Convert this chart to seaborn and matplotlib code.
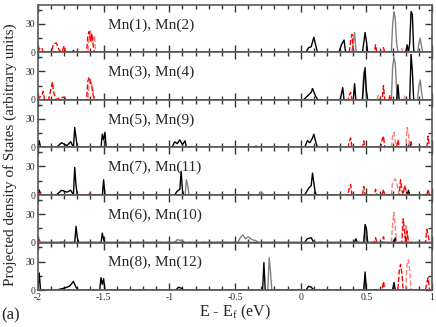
import matplotlib
matplotlib.use('Agg')
import matplotlib.pyplot as plt
import seaborn as sns
import pandas as pd
from matplotlib.ticker import MultipleLocator, FuncFormatter

# projected DOS, (E - Ef, dos) vertices
# up = solid (black / grey), dn = dashed (red / pink)
panel_labels = ["Mn(1), Mn(2)", "Mn(3), Mn(4)", "Mn(5), Mn(9)",
                "Mn(7), Mn(11)", "Mn(6), Mn(10)", "Mn(8), Mn(12)"]

p1_up_a = [(-2, 0), (-1.74, 0), (-1.73, 2), (-1.72, 0), (0.04, 0), (0.06, 5), (0.08, 6), (0.1, 16),
           (0.12, 4), (0.13, 0), (0.29, 0), (0.31, 8), (0.33, 13), (0.34, 2), (0.35, 0), (0.47, 0),
           (0.48, 10), (0.49, 21), (0.5, 12), (0.51, 0), (0.8, 0), (0.81, 8), (0.82, 0), (0.83, 10),
           (0.84, 43), (0.85, 40), (0.86, 2), (0.87, 0), (1, 0)]
p1_up_b = [(-2, 0), (0.39, 0), (0.41, 21), (0.42, 3), (0.43, 0), (0.69, 0), (0.7, 30), (0.71, 43),
           (0.72, 35), (0.73, 10), (0.74, 0), (0.89, 0), (0.9, 10), (0.91, 15), (0.92, 6), (0.93, 0), (1, 0)]
p1_dn_a = [(-2, 0), (-1.99, 4), (-1.97, 5), (-1.96, 0), (-1.9, 0), (-1.88, 9), (-1.86, 10), (-1.84, 3),
           (-1.82, 0), (-1.8, 7), (-1.79, 0), (-1.63, 0), (-1.62, 18), (-1.61, 22), (-1.6, 12), (-1.59, 20),
           (-1.58, 8), (-1.57, 0), (0.37, 0), (0.38, 12), (0.39, 19), (0.4, 3), (0.41, 0), (0.56, 0),
           (0.57, 8), (0.58, 0), (0.62, 0), (0.63, 5), (0.64, 0), (1, 0)]
p1_dn_b = [(-2, 0), (-1.62, 0), (-1.61, 15), (-1.6, 24), (-1.59, 10), (-1.57, 18), (-1.56, 0),
           (0.76, 0), (0.77, 4), (0.78, 0), (1, 0)]

p2_up_a = [(-2, 0), (0.02, 0), (0.05, 4), (0.08, 8), (0.09, 12), (0.11, 5), (0.13, 0), (0.3, 0),
           (0.32, 13), (0.33, 0), (0.4, 0), (0.41, 17), (0.42, 0), (0.47, 0), (0.48, 20), (0.49, 34),
           (0.5, 10), (0.51, 0), (0.73, 0), (0.74, 16), (0.75, 0), (0.83, 0), (0.84, 48), (0.85, 30),
           (0.86, 0), (1, 0)]
p2_up_b = [(-2, 0), (0.47, 0), (0.48, 30), (0.49, 25), (0.5, 0), (0.69, 0), (0.7, 35), (0.71, 45),
           (0.72, 38), (0.73, 12), (0.74, 0), (0.89, 0), (0.9, 15), (0.91, 21), (0.92, 8), (0.93, 0), (1, 0)]
p2_dn_a = [(-2, 0), (-1.99, 3), (-1.97, 4), (-1.96, 9), (-1.95, 0), (-1.92, 0), (-1.9, 12), (-1.89, 19),
           (-1.88, 8), (-1.86, 0), (-1.84, 2), (-1.8, 3), (-1.78, 0), (-1.63, 0), (-1.62, 20), (-1.61, 24),
           (-1.6, 18), (-1.59, 14), (-1.58, 5), (-1.57, 0), (0.36, 0), (0.37, 5), (0.38, 8), (0.39, 0),
           (0.62, 0), (0.63, 15), (0.64, 0), (0.67, 0), (0.68, 5), (0.69, 0), (1, 0)]
p2_dn_b = [(-2, 0), (-1.62, 0), (-1.61, 16), (-1.6, 22), (-1.58, 10), (-1.57, 0), (0.58, 0),
           (0.59, 5), (0.6, 0), (0.78, 0), (0.79, 4), (0.8, 0), (1, 0)]

p3_up_a = [(-2, 0), (-1.99, 7), (-1.98, 0), (-1.86, 0), (-1.82, 5), (-1.78, 2), (-1.75, 6), (-1.73, 0),
           (-1.72, 21), (-1.71, 10), (-1.7, 0), (-1.52, 0), (-1.51, 14), (-1.5, 8), (-1.49, 16), (-1.48, 0),
           (-0.98, 0), (-0.96, 6), (-0.94, 4), (-0.92, 8), (-0.9, 3), (-0.88, 7), (-0.87, 0), (0.03, 0),
           (0.05, 7), (0.07, 5), (0.09, 10), (0.1, 14), (0.12, 3), (0.13, 0), (0.82, 0), (0.83, 5),
           (0.84, 0), (1, 0)]
p3_up_b = [(-2, 0), (-0.35, 0), (-0.34, 2), (-0.33, 0), (1, 0)]
p3_dn_a = [(-2, 0), (0.36, 0), (0.37, 6), (0.38, 10), (0.39, 0), (0.47, 0), (0.48, 7), (0.49, 0),
           (0.61, 0), (0.62, 8), (0.63, 12), (0.64, 0), (0.73, 0), (0.74, 8), (0.75, 0), (0.83, 0),
           (0.84, 6), (0.85, 0), (0.96, 0), (0.97, 12), (0.98, 0), (1, 0)]
p3_dn_b = [(-2, 0), (0.69, 0), (0.7, 12), (0.71, 16), (0.72, 6), (0.73, 0), (0.8, 0), (0.81, 21),
           (0.82, 14), (0.83, 0), (1, 0)]

p4_up_a = [(-2, 0), (-1.99, 5), (-1.98, 0), (-1.86, 0), (-1.82, 5), (-1.78, 3), (-1.75, 5), (-1.73, 0),
           (-1.72, 29), (-1.71, 10), (-1.7, 0), (-1.51, 0), (-1.5, 16), (-1.49, 0), (-0.96, 0), (-0.94, 4),
           (-0.92, 6), (-0.91, 25), (-0.9, 5), (-0.89, 0), (0.03, 0), (0.06, 7), (0.08, 10), (0.09, 23),
           (0.11, 3), (0.12, 0), (0.81, 0), (0.82, 5), (0.83, 0), (1, 0)]
p4_up_b = [(-2, 0), (-0.88, 0), (-0.87, 16), (-0.86, 10), (-0.85, 0), (-0.32, 0), (-0.31, 3),
           (-0.29, 2), (-0.28, 0), (1, 0)]
p4_dn_a = [(-2, 0), (-1.98, 3), (-1.97, 0), (-1.62, 0), (-1.6, 2), (-1.58, 0), (0.36, 0), (0.37, 8),
           (0.38, 11), (0.39, 0), (0.47, 0), (0.48, 9), (0.49, 0), (0.56, 0), (0.57, 6), (0.58, 0),
           (0.62, 0), (0.63, 6), (0.64, 0), (0.75, 0), (0.76, 16), (0.77, 5), (0.78, 0), (0.79, 10),
           (0.8, 6), (0.81, 0), (0.96, 0), (0.97, 6), (0.98, 0), (1, 0)]
p4_dn_b = [(-2, 0), (0.69, 0), (0.7, 14), (0.72, 17), (0.74, 8), (0.75, 0), (1, 0)]

p5_up_a = [(-2, 0), (-1.72, 0), (-1.71, 17), (-1.7, 5), (-1.69, 0), (-1.52, 0), (-1.51, 10), (-1.5, 3),
           (-1.49, 0), (0.03, 0), (0.05, 4), (0.08, 5), (0.1, 0), (0.41, 0), (0.42, 4), (0.43, 0),
           (0.48, 0), (0.49, 19), (0.5, 15), (0.51, 0), (0.71, 0), (0.72, 5), (0.73, 0), (1, 0)]
p5_up_b = [(-2, 0), (-0.96, 0), (-0.94, 3), (-0.9, 2), (-0.88, 0), (-0.48, 0), (-0.46, 5), (-0.44, 8),
           (-0.42, 4), (-0.4, 6), (-0.37, 3), (-0.34, 2), (-0.32, 0), (0.48, 0), (0.49, 15), (0.5, 0), (1, 0)]
p5_dn_a = [(-2, 0), (-1.99, 3), (-1.98, 0), (-1.83, 0), (-1.82, 2), (-1.81, 0), (0.56, 0), (0.57, 5),
           (0.58, 0), (0.62, 0), (0.63, 6), (0.64, 0), (0.77, 0), (0.78, 25), (0.79, 12), (0.8, 0),
           (0.81, 12), (0.82, 0), (0.95, 0), (0.96, 14), (0.97, 8), (0.98, 0), (1, 0)]
p5_dn_b = [(-2, 0), (0.69, 0), (0.7, 20), (0.71, 32), (0.72, 15), (0.73, 0), (0.79, 0), (0.8, 19),
           (0.81, 10), (0.82, 0), (1, 0)]

p6_up_a = [(-2, 0), (-1.99, 18), (-1.98, 0), (-1.86, 0), (-1.8, 2), (-1.76, 4), (-1.73, 9), (-1.71, 3),
           (-1.69, 0), (-1.53, 0), (-1.52, 13), (-1.51, 6), (-1.5, 12), (-1.49, 0), (-0.95, 0), (-0.93, 3),
           (-0.91, 2), (-0.89, 0), (-0.29, 0), (-0.28, 29), (-0.27, 0), (0.04, 0), (0.06, 4), (0.08, 3),
           (0.1, 0), (0.48, 0), (0.49, 19), (0.5, 0), (0.7, 0), (0.71, 8), (0.72, 0), (1, 0)]
p6_up_b = [(-2, 0), (-0.25, 0), (-0.24, 34), (-0.23, 20), (-0.22, 0), (0.48, 0), (0.49, 12), (0.5, 0), (1, 0)]
p6_dn_a = [(-2, 0), (0.62, 0), (0.63, 9), (0.64, 0), (0.74, 0), (0.75, 20), (0.76, 27), (0.77, 18),
           (0.78, 0), (0.95, 0), (0.96, 8), (0.97, 13), (0.98, 0), (1, 0)]
p6_dn_b = [(-2, 0), (0.8, 0), (0.81, 28), (0.82, 32), (0.83, 20), (0.84, 0), (1, 0)]

panels = [
    (p1_up_b, p1_up_a, p1_dn_b, p1_dn_a),
    (p2_up_b, p2_up_a, p2_dn_b, p2_dn_a),
    (p3_up_b, p3_up_a, p3_dn_b, p3_dn_a),
    (p4_up_b, p4_up_a, p4_dn_b, p4_dn_a),
    (p5_up_b, p5_up_a, p5_dn_b, p5_dn_a),
    (p6_up_b, p6_up_a, p6_dn_b, p6_dn_a),
]

sns.set_style('ticks')
plt.rcParams['font.family'] = ['Liberation Serif', 'DejaVu Serif']
plt.rcParams['mathtext.fontset'] = 'custom'
plt.rcParams['mathtext.rm'] = 'Liberation Serif'
plt.rcParams['mathtext.it'] = 'Liberation Serif:italic'
plt.rcParams['axes.unicode_minus'] = False

colors = ['#808080', 'black', '#ff8080', '#ff0000']
styles = ['-', '-', '--', '--']

fig, axes = plt.subplots(6, 1, sharex=True, figsize=(4.36, 3.27), dpi=100)
fig.subplots_adjust(left=0.087, right=0.991, bottom=0.113, top=0.985, hspace=0)

for ax, label, series in zip(axes, panel_labels, panels):
    for pts, color, ls in zip(series, colors, styles):
        df = pd.DataFrame(pts, columns=['E', 'dos'])
        sns.lineplot(data=df, x='E', y='dos', ax=ax, color=color, linestyle=ls,
                     lw=1, sort=False, estimator=None)
    ax.set_xlim(-2, 1)
    ax.set_ylim(0, 50)
    ax.set_xlabel('')
    ax.set_ylabel('')
    ax.text(-1.47, 29, label, fontsize=11, va='center', ha='left')
    ax.xaxis.set_major_locator(MultipleLocator(0.5))
    ax.xaxis.set_minor_locator(MultipleLocator(0.1))
    ax.yaxis.set_major_locator(MultipleLocator(30))
    ax.yaxis.set_minor_locator(MultipleLocator(15))
    ax.tick_params(which='both', direction='in', top=True, right=True,
                   labelsize=7, pad=2, color='0.2', width=1)
    ax.tick_params(which='major', length=5)
    ax.tick_params(which='minor', length=3)
    for sp in ax.spines.values():
        sp.set_color('0.35')
        sp.set_linewidth(1.2)

axes[-1].xaxis.set_major_formatter(FuncFormatter(lambda v, pos: f'{v:g}'))
axes[-1].set_xlabel('E - E$_\\mathrm{f}$ (eV)', fontsize=11.5, labelpad=1)

fig.text(0.023, 0.526, 'Projected density of States (arbitrary units)',
         rotation=90, va='center', ha='center', fontsize=11)
fig.text(0.004, 0.035, '(a)', fontsize=12, va='center', ha='left')

fig.savefig('out.png', dpi=100)
